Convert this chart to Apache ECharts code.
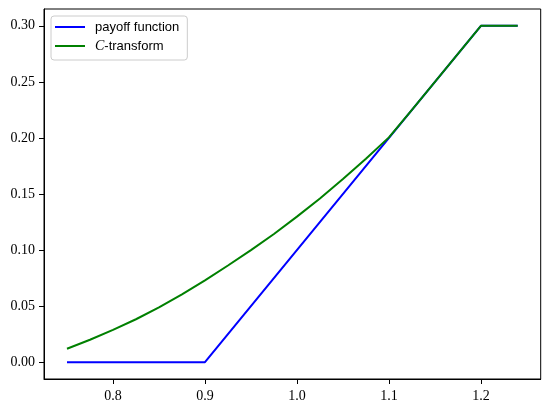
<!DOCTYPE html>
<html>
<head>
<meta charset="utf-8">
<script src="https://cdn.jsdelivr.net/npm/echarts@6/dist/echarts.min.js"></script>
<style>
  html, body { margin: 0; padding: 0; background: #fff; }
  #chart { width: 550px; height: 411px; }
</style>
</head>
<body>
<div id="chart"></div>
<script>
// data
const payoffX = [0.75, 0.9, 1.2, 1.24];
const payoffY = [0.0, 0.0, 0.3, 0.3];

const cTransformX = [0.75, 0.775, 0.8, 0.825, 0.85, 0.875, 0.9, 0.925, 0.95, 0.975,
                     1.0, 1.025, 1.05, 1.075, 1.1, 1.125, 1.15, 1.175, 1.2, 1.24];
const cTransformY = [0.012, 0.020, 0.0288, 0.0383, 0.0488, 0.0605, 0.073, 0.0862, 0.0999, 0.1143,
                     0.1298, 0.146, 0.1633, 0.1815, 0.2005, 0.225, 0.25, 0.275, 0.3, 0.3];

const xTicks = [0.8, 0.9, 1.0, 1.1, 1.2];
const yTicks = [0.0, 0.05, 0.10, 0.15, 0.20, 0.25, 0.30];

const seriesNames = ['payoff function', 'C-transform'];

const zip = (xs, ys) => xs.map((x, i) => [x, ys[i]]);

const tickFont = { fontFamily: 'Liberation Serif', fontSize: 14, color: '#000' };

const chart = echarts.init(document.getElementById('chart'), null, { renderer: 'canvas' });

chart.setOption({
    animation: false,
    backgroundColor: '#fff',
    grid: {
        left: 44, right: 9.3, top: 9, bottom: 32,
        show: true, borderColor: '#000', borderWidth: 1,
        outerBoundsMode: 'none'
    },
    legend: {
        left: 51, top: 16,
        orient: 'vertical',
        itemWidth: 30, itemHeight: 2, itemGap: 5,
        icon: 'rect',
        padding: [4, 8, 7, 4],
        borderColor: '#cccccc', borderWidth: 1, borderRadius: 3,
        backgroundColor: '#fff',
        textStyle: {
            fontFamily: 'Liberation Sans', fontSize: 13, color: '#000',
            padding: [0, 0, 0, 5], lineHeight: 14,
            rich: {
                i: { fontFamily: 'Liberation Serif', fontStyle: 'italic', fontSize: 14, color: '#000', lineHeight: 14 }
            }
        },
        formatter: (name) => name === 'C-transform' ? '{i|C}-transform' : name,
        data: seriesNames
    },
    xAxis: {
        type: 'value',
        min: 0.725, max: 1.265,
        axisLine: { show: true, onZero: false, lineStyle: { color: '#000', width: 1 } },
        axisTick: { show: true, inside: false, length: 5, customValues: xTicks, lineStyle: { color: '#000' } },
        axisLabel: { ...tickFont, margin: 10, customValues: xTicks, formatter: v => v.toFixed(1) },
        splitLine: { show: false }
    },
    yAxis: {
        type: 'value',
        min: -0.015, max: 0.315,
        axisLine: { show: true, onZero: false, lineStyle: { color: '#000', width: 1 } },
        axisTick: { show: true, inside: false, length: 5, customValues: yTicks, lineStyle: { color: '#000' } },
        axisLabel: { ...tickFont, margin: 9, customValues: yTicks, formatter: v => v.toFixed(2) },
        splitLine: { show: false }
    },
    series: [
        {
            name: seriesNames[0],
            type: 'line',
            data: zip(payoffX, payoffY),
            showSymbol: false,
            color: '#0000ff',
            lineStyle: { color: '#0000ff', width: 2 }
        },
        {
            name: seriesNames[1],
            type: 'line',
            data: zip(cTransformX, cTransformY),
            showSymbol: false,
            color: '#008000',
            lineStyle: { color: '#008000', width: 2 }
        }
    ]
});
</script>
</body>
</html>
